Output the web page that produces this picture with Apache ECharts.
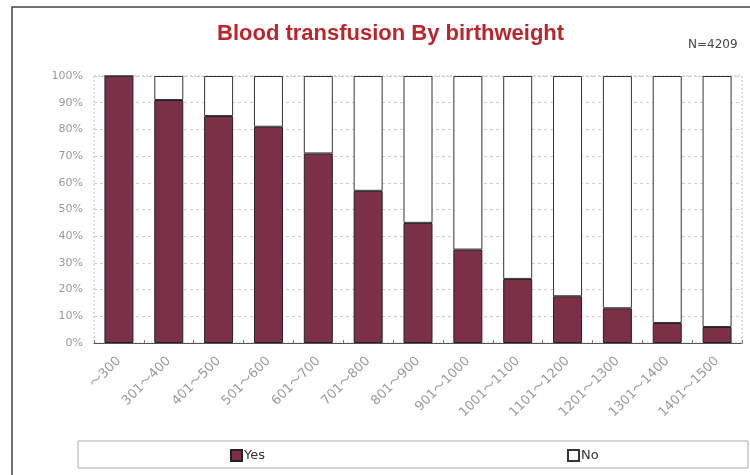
<!DOCTYPE html>
<html>
<head>
<meta charset="utf-8">
<script src="https://cdn.jsdelivr.net/npm/echarts@6/dist/echarts.min.js"></script>
<style>
  html, body { margin: 0; padding: 0; background: #fff; }
  #chart { width: 750px; height: 475px; }
</style>
</head>
<body>
<div id="chart"></div>
<script>
// 体重区分
const categories = ['〜300', '301〜400', '401〜500', '501〜600', '601〜700', '701〜800', '801〜900',
    '901〜1000', '1001〜1100', '1101〜1200', '1201〜1300', '1301〜1400', '1401〜1500'];
// 輸血あり / なし (%)
const yesValues = [100, 91, 85, 81, 71, 57, 45, 35, 24, 17.5, 13, 7.5, 6];
const noValues = [0, 9, 15, 19, 29, 43, 55, 65, 76, 82.5, 87, 92.5, 94];
const yTicks = [0, 100, 10];

const chartInit = function () {
    let myChart = echarts.init(document.getElementById('chart'));

    let option = {
        backgroundColor: '#fff',
        animation: false,
        title: [{
            text: 'Blood transfusion By birthweight',
            left: 212,
            top: 18,
            textStyle: { color: '#bb262c', fontSize: 22, fontWeight: 'bold', fontFamily: 'Liberation Sans' }
        }, {
            text: 'N=4209',
            left: 683,
            top: 34,
            textStyle: { color: '#444', fontSize: 12, fontWeight: 'normal', fontFamily: 'DejaVu Sans' }
        }],
        legend: {
            left: 225,
            top: 444,
            icon: 'rect',
            itemWidth: 11,
            itemHeight: 11,
            itemGap: 302,
            data: ['Yes', 'No'],
            textStyle: { color: '#333', fontSize: 13, fontFamily: 'DejaVu Sans', padding: [0, 0, 0, -3] }
        },
        grid: { left: 94, right: 8, top: 76, bottom: 132 },
        graphic: [
            { type: 'rect', shape: { x: 12, y: 7, width: 760, height: 490 },
              style: { fill: 'none', stroke: '#444', lineWidth: 1.5 }, z: 100 },
            { type: 'rect', shape: { x: 78, y: 441, width: 670, height: 27 },
              style: { fill: 'none', stroke: '#aaa', lineWidth: 1 }, z: -1 },
            { type: 'rect', shape: { x: 94, y: 76, width: 648, height: 267 },
              style: { fill: 'none', stroke: '#bbb', lineWidth: 1, lineDash: [2, 2] }, z: -1 }
        ],
        xAxis: {
            type: 'category',
            data: categories,
            axisLine: { lineStyle: { color: '#555', width: 1 } },
            axisTick: { show: true, inside: true, length: 3, lineStyle: { color: '#777' } },
            axisLabel: { rotate: 45, color: '#999', fontSize: 13, fontFamily: "'DejaVu Sans', 'Noto Sans CJK JP'", margin: 16 }
        },
        yAxis: {
            type: 'value',
            min: yTicks[0],
            max: yTicks[1],
            interval: yTicks[2],
            axisLine: { show: false },
            axisTick: { show: false },
            axisLabel: { formatter: '{value}%', color: '#999', fontSize: 11, fontFamily: 'DejaVu Sans', margin: 11 },
            splitLine: { lineStyle: { color: '#ccc', type: [3, 3] } }
        },
        series: [{
            name: 'Yes',
            type: 'bar',
            stack: 'all',
            barWidth: 29,
            data: yesValues,
            itemStyle: { color: '#7c3047', borderColor: '#222', borderWidth: 1 }
        }, {
            name: 'No',
            type: 'bar',
            stack: 'all',
            barWidth: 29,
            data: noValues,
            itemStyle: { color: '#fff', borderColor: '#333', borderWidth: 1 }
        }]
    };

    myChart.setOption(option);
};

chartInit();
</script>
</body>
</html>
